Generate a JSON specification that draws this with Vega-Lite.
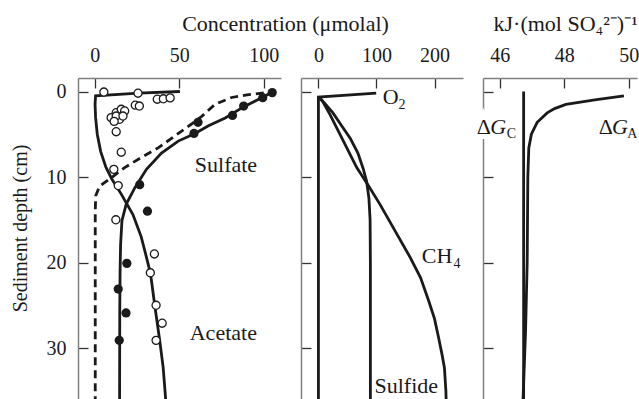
{
  "$schema": "https://vega.github.io/schema/vega-lite/v6.json",
  "padding": {"left": 10, "top": 12, "right": 0, "bottom": 0},
  "autosize": {"type": "pad"},
  "bounds": "flush",
  "spacing": 20,
  "config": {
    "font": "Liberation Serif",
    "view": {"stroke": null},
    "axis": {
      "grid": false,
      "domainColor": "#808080",
      "domainWidth": 1.5,
      "tickColor": "#333333",
      "tickWidth": 1.3,
      "tickSize": -10,
      "labelFont": "Liberation Serif",
      "labelFontSize": 20,
      "labelColor": "#1a1a1a",
      "labelOverlap": false,
      "labelFlush": false,
      "titleFont": "Liberation Serif",
      "titleFontWeight": "normal",
      "titleFontSize": 22,
      "titleColor": "#1a1a1a"
    }
  },
  "datasets": {
    "p1_lines": [
      {"series": "sulfate_fit", "x": 105, "d": 0.1},
      {"series": "sulfate_fit", "x": 97, "d": 0.9},
      {"series": "sulfate_fit", "x": 88, "d": 1.8},
      {"series": "sulfate_fit", "x": 77.2, "d": 3.1},
      {"series": "sulfate_fit", "x": 67.3, "d": 4.0},
      {"series": "sulfate_fit", "x": 59.3, "d": 4.9},
      {"series": "sulfate_fit", "x": 49.4, "d": 5.8},
      {"series": "sulfate_fit", "x": 39.5, "d": 7.2},
      {"series": "sulfate_fit", "x": 30.6, "d": 9.1},
      {"series": "sulfate_fit", "x": 23.6, "d": 11.3},
      {"series": "sulfate_fit", "x": 18.6, "d": 13.2},
      {"series": "sulfate_fit", "x": 16.1, "d": 15.1},
      {"series": "sulfate_fit", "x": 15.3, "d": 17.9},
      {"series": "sulfate_fit", "x": 15.0, "d": 21},
      {"series": "sulfate_fit", "x": 14.8, "d": 26},
      {"series": "sulfate_fit", "x": 14.7, "d": 36.1},
      {"series": "acetate_fit", "x": 50.4, "d": 0},
      {"series": "acetate_fit", "x": 26, "d": 0.2},
      {"series": "acetate_fit", "x": 0.5, "d": 0.5},
      {"series": "acetate_fit", "x": 0.2, "d": 1.5},
      {"series": "acetate_fit", "x": 0.5, "d": 3},
      {"series": "acetate_fit", "x": 1.5, "d": 5},
      {"series": "acetate_fit", "x": 3.5, "d": 7},
      {"series": "acetate_fit", "x": 6.5, "d": 8.8},
      {"series": "acetate_fit", "x": 10, "d": 10.2},
      {"series": "acetate_fit", "x": 15.7, "d": 12},
      {"series": "acetate_fit", "x": 22.6, "d": 14.4},
      {"series": "acetate_fit", "x": 27.5, "d": 17},
      {"series": "acetate_fit", "x": 30.5, "d": 19.3},
      {"series": "acetate_fit", "x": 33, "d": 21.3},
      {"series": "acetate_fit", "x": 35.5, "d": 25},
      {"series": "acetate_fit", "x": 38.5, "d": 29.2},
      {"series": "acetate_fit", "x": 40.5, "d": 32.3},
      {"series": "acetate_fit", "x": 42, "d": 36.1},
      {"series": "sulfate_alt", "x": 100, "d": 0.15},
      {"series": "sulfate_alt", "x": 90, "d": 0.4},
      {"series": "sulfate_alt", "x": 81, "d": 0.7},
      {"series": "sulfate_alt", "x": 71.2, "d": 1.5},
      {"series": "sulfate_alt", "x": 63.3, "d": 2.9},
      {"series": "sulfate_alt", "x": 57.3, "d": 3.8},
      {"series": "sulfate_alt", "x": 47.4, "d": 5.2},
      {"series": "sulfate_alt", "x": 37.5, "d": 6.6},
      {"series": "sulfate_alt", "x": 27.6, "d": 7.7},
      {"series": "sulfate_alt", "x": 17.7, "d": 8.9},
      {"series": "sulfate_alt", "x": 9.7, "d": 10.1},
      {"series": "sulfate_alt", "x": 2.8, "d": 11.1},
      {"series": "sulfate_alt", "x": 0.6, "d": 12.2},
      {"series": "sulfate_alt", "x": 0.3, "d": 14},
      {"series": "sulfate_alt", "x": 0.3, "d": 36.1}
    ],
    "p1_points": [
      {"series": "acetate_obs", "x": 5.4, "d": 0.06},
      {"series": "acetate_obs", "x": 25.6, "d": 0.2},
      {"series": "acetate_obs", "x": 37, "d": 0.9},
      {"series": "acetate_obs", "x": 40.6, "d": 0.85},
      {"series": "acetate_obs", "x": 44.6, "d": 0.75},
      {"series": "acetate_obs", "x": 24, "d": 1.6},
      {"series": "acetate_obs", "x": 26.4, "d": 1.7},
      {"series": "acetate_obs", "x": 9.7, "d": 3.06},
      {"series": "acetate_obs", "x": 12.7, "d": 2.48},
      {"series": "acetate_obs", "x": 15.7, "d": 2.08},
      {"series": "acetate_obs", "x": 17.7, "d": 2.28},
      {"series": "acetate_obs", "x": 14.7, "d": 3.25},
      {"series": "acetate_obs", "x": 12.7, "d": 2.87},
      {"series": "acetate_obs", "x": 16.7, "d": 2.87},
      {"series": "acetate_obs", "x": 11.5, "d": 3.5},
      {"series": "acetate_obs", "x": 12.7, "d": 4.7},
      {"series": "acetate_obs", "x": 15.7, "d": 7.1},
      {"series": "acetate_obs", "x": 11.3, "d": 9.1},
      {"series": "acetate_obs", "x": 13.9, "d": 11.0},
      {"series": "acetate_obs", "x": 12.5, "d": 15.0},
      {"series": "acetate_obs", "x": 35.3, "d": 19.0},
      {"series": "acetate_obs", "x": 32.9, "d": 21.2},
      {"series": "acetate_obs", "x": 36.3, "d": 25.0},
      {"series": "acetate_obs", "x": 39.9, "d": 27.1},
      {"series": "acetate_obs", "x": 36.3, "d": 29.1},
      {"series": "sulfate_obs", "x": 105, "d": 0.13},
      {"series": "sulfate_obs", "x": 99.4, "d": 0.72},
      {"series": "sulfate_obs", "x": 88.1, "d": 1.7},
      {"series": "sulfate_obs", "x": 81.5, "d": 2.8},
      {"series": "sulfate_obs", "x": 61.1, "d": 3.6},
      {"series": "sulfate_obs", "x": 58.7, "d": 4.9},
      {"series": "sulfate_obs", "x": 26.6, "d": 10.9},
      {"series": "sulfate_obs", "x": 31.2, "d": 14.0},
      {"series": "sulfate_obs", "x": 19, "d": 20.1},
      {"series": "sulfate_obs", "x": 13.9, "d": 23.1},
      {"series": "sulfate_obs", "x": 18.5, "d": 25.9},
      {"series": "sulfate_obs", "x": 14.5, "d": 29.1}
    ],
    "p1_labels": [
      {"text": "Sulfate", "x": 59.2, "d": 9.4},
      {"text": "Acetate", "x": 56.2, "d": 29.1}
    ],
    "p2_lines": [
      {"series": "O2", "x": 99.5, "d": 0.2},
      {"series": "O2", "x": 0, "d": 0.65},
      {"series": "O2", "x": 0, "d": 36.1},
      {"series": "Sulfide", "x": 0, "d": 0.7},
      {"series": "Sulfide", "x": 10, "d": 1.3},
      {"series": "Sulfide", "x": 25, "d": 2.5},
      {"series": "Sulfide", "x": 40, "d": 4},
      {"series": "Sulfide", "x": 55, "d": 5.5},
      {"series": "Sulfide", "x": 68, "d": 7.2},
      {"series": "Sulfide", "x": 77, "d": 9},
      {"series": "Sulfide", "x": 83, "d": 10.5},
      {"series": "Sulfide", "x": 87, "d": 12.5},
      {"series": "Sulfide", "x": 89, "d": 15},
      {"series": "Sulfide", "x": 89.5, "d": 20},
      {"series": "Sulfide", "x": 89.5, "d": 36.1},
      {"series": "CH4", "x": 0, "d": 0.7},
      {"series": "CH4", "x": 6, "d": 1.0},
      {"series": "CH4", "x": 20, "d": 2.7},
      {"series": "CH4", "x": 40, "d": 5.4},
      {"series": "CH4", "x": 66, "d": 8.9},
      {"series": "CH4", "x": 86, "d": 11},
      {"series": "CH4", "x": 106, "d": 13.2},
      {"series": "CH4", "x": 132, "d": 16.3},
      {"series": "CH4", "x": 158, "d": 19.4},
      {"series": "CH4", "x": 176, "d": 21.8},
      {"series": "CH4", "x": 190, "d": 24.5},
      {"series": "CH4", "x": 200, "d": 26.6},
      {"series": "CH4", "x": 207, "d": 28.8},
      {"series": "CH4", "x": 213, "d": 30.8},
      {"series": "CH4", "x": 217, "d": 32.3},
      {"series": "CH4", "x": 219.5, "d": 35},
      {"series": "CH4", "x": 220, "d": 36.1}
    ],
    "p2_labels": [
      {"part": "main", "text": "O", "x": 110.9, "d": 1.46},
      {"part": "sub", "text": "2", "x": 137.9, "d": 2.1},
      {"part": "main", "text": "CH", "x": 178.1, "d": 20.0},
      {"part": "sub", "text": "4", "x": 232.8, "d": 20.6},
      {"part": "main", "text": "Sulfide", "x": 96.6, "d": 35.3}
    ],
    "p3_lines": [
      {"series": "dGC", "x": 46.74, "d": 0},
      {"series": "dGC", "x": 46.74, "d": 36.1},
      {"series": "dGA", "x": 49.85, "d": 0.5},
      {"series": "dGA", "x": 49.0, "d": 0.95},
      {"series": "dGA", "x": 48.05, "d": 1.5},
      {"series": "dGA", "x": 47.7, "d": 2.0},
      {"series": "dGA", "x": 47.47, "d": 2.5},
      {"series": "dGA", "x": 47.16, "d": 3.6},
      {"series": "dGA", "x": 46.98, "d": 5},
      {"series": "dGA", "x": 46.9, "d": 6.6},
      {"series": "dGA", "x": 46.87, "d": 10},
      {"series": "dGA", "x": 46.85, "d": 20},
      {"series": "dGA", "x": 46.8, "d": 28},
      {"series": "dGA", "x": 46.72, "d": 36.1}
    ],
    "p3_labels": [
      {"label": "C", "part": "delta", "text": "Δ", "x": 45.287, "d": 4.97},
      {"label": "C", "part": "G", "text": "G", "x": 45.705, "d": 4.97},
      {"label": "C", "part": "sub", "text": "C", "x": 46.217, "d": 5.45},
      {"label": "A", "part": "delta", "text": "Δ", "x": 49.07, "d": 4.97},
      {"label": "A", "part": "G", "text": "G", "x": 49.48, "d": 4.97},
      {"label": "A", "part": "sub", "text": "A", "x": 49.95, "d": 5.45}
    ]
  },
  "hconcat": [
    {
      "width": 203,
      "height": 322,
      "encoding": {
        "x": {"field": "x", "type": "quantitative",
          "scale": {"domain": [-9.9, 110.2], "nice": false, "zero": false},
          "axis": {"orient": "top", "values": [0, 50, 100], "labelPadding": 23,
            "title": "Concentration (μmolal)", "titleX": 207, "titleY": -48,
            "titleAlign": "center", "titleBaseline": "alphabetic"}},
        "y": {"field": "d", "type": "quantitative",
          "scale": {"domain": [-1.58, 36.08], "nice": false, "zero": false, "reverse": true},
          "axis": {"values": [0, 10, 20, 30], "labelPadding": 22,
            "title": "Sediment depth (cm)", "titleFontSize": 20,
            "titleX": -58, "titleY": 150, "titleAngle": 270,
            "titleAlign": "center", "titleBaseline": "middle"}}
      },
      "layer": [
        {
          "data": {"name": "p1_lines"},
          "transform": [{"filter": "datum.series !== 'sulfate_alt'"}],
          "mark": {"type": "line", "color": "#1a1a1a", "strokeWidth": 2.8},
          "encoding": {"detail": {"field": "series"}, "order": {"value": null}}
        },
        {
          "data": {"name": "p1_lines"},
          "transform": [{"filter": "datum.series === 'sulfate_alt'"}],
          "mark": {"type": "line", "color": "#1a1a1a", "strokeWidth": 2.8, "strokeDash": [8, 5]},
          "encoding": {"order": {"value": null}}
        },
        {
          "data": {"name": "p1_points"},
          "transform": [{"filter": "datum.series === 'acetate_obs'"}],
          "mark": {"type": "point", "shape": "circle", "filled": true, "fill": "white",
            "stroke": "#1a1a1a", "strokeWidth": 1.3, "size": 65, "opacity": 1}
        },
        {
          "data": {"name": "p1_points"},
          "transform": [{"filter": "datum.series === 'sulfate_obs'"}],
          "mark": {"type": "circle", "color": "#1a1a1a", "size": 85, "opacity": 1}
        },
        {
          "data": {"name": "p1_labels"},
          "mark": {"type": "text", "font": "Liberation Serif", "fontSize": 22, "align": "left",
            "baseline": "alphabetic", "color": "#1a1a1a"},
          "encoding": {"text": {"field": "text"}}
        },
        {
          "data": {"values": [{}]},
          "mark": {"type": "rule", "color": "#808080", "strokeWidth": 1.5},
          "encoding": {"x": {"datum": 110.2}, "y": {"datum": -1.58}, "y2": {"datum": 36.08}}
        }
      ]
    },
    {
      "width": 162,
      "height": 322,
      "encoding": {
        "x": {"field": "x", "type": "quantitative",
          "scale": {"domain": [-30, 249], "nice": false, "zero": false},
          "axis": {"orient": "top", "values": [0, 100, 200], "labelPadding": 23, "title": null}},
        "y": {"field": "d", "type": "quantitative",
          "scale": {"domain": [-1.58, 36.08], "nice": false, "zero": false, "reverse": true},
          "axis": {"values": [0, 10, 20, 30], "labels": false, "title": null}}
      },
      "layer": [
        {
          "data": {"name": "p2_lines"},
          "mark": {"type": "line", "color": "#1a1a1a", "strokeWidth": 2.8},
          "encoding": {"detail": {"field": "series"}, "order": {"value": null}}
        },
        {
          "data": {"name": "p2_labels"},
          "transform": [{"filter": "datum.part === 'main'"}],
          "mark": {"type": "text", "font": "Liberation Serif", "fontSize": 22, "align": "left",
            "baseline": "alphabetic", "color": "#1a1a1a"},
          "encoding": {"text": {"field": "text"}}
        },
        {
          "data": {"name": "p2_labels"},
          "transform": [{"filter": "datum.part === 'sub'"}],
          "mark": {"type": "text", "font": "Liberation Serif", "fontSize": 14, "align": "left",
            "baseline": "alphabetic", "color": "#1a1a1a"},
          "encoding": {"text": {"field": "text"}}
        },
        {
          "data": {"values": [{}]},
          "mark": {"type": "rule", "color": "#808080", "strokeWidth": 1.5},
          "encoding": {"x": {"datum": 249}, "y": {"datum": -1.58}, "y2": {"datum": 36.08}}
        }
      ]
    },
    {
      "width": 154,
      "height": 322,
      "encoding": {
        "x": {"field": "x", "type": "quantitative",
          "scale": {"domain": [45.48, 50.255], "nice": false, "zero": false},
          "axis": {"orient": "top", "values": [46, 48, 50], "labelPadding": 23,
            "title": "kJ·(mol SO₄²⁻)⁻¹", "titleX": 10, "titleY": -48,
            "titleAlign": "left", "titleBaseline": "alphabetic"}},
        "y": {"field": "d", "type": "quantitative",
          "scale": {"domain": [-1.58, 36.08], "nice": false, "zero": false, "reverse": true},
          "axis": {"values": [0, 10, 20, 30], "labels": false, "title": null}}
      },
      "layer": [
        {
          "data": {"name": "p3_labels"},
          "transform": [{"filter": "datum.label === 'C' && datum.part !== 'sub'"}],
          "mark": {"type": "text", "font": "Liberation Serif", "fontSize": 22, "align": "left",
            "baseline": "alphabetic", "color": "white", "stroke": "white", "strokeWidth": 10},
          "encoding": {"text": {"field": "text"}}
        },
        {
          "data": {"name": "p3_lines"},
          "mark": {"type": "line", "color": "#1a1a1a", "strokeWidth": 2.8},
          "encoding": {"detail": {"field": "series"}, "order": {"value": null}}
        },
        {
          "data": {"name": "p3_labels"},
          "transform": [{"filter": "datum.label === 'C' && datum.part === 'delta'"}],
          "mark": {"type": "text", "font": "Liberation Serif", "fontSize": 22, "align": "left",
            "baseline": "alphabetic", "color": "#1a1a1a"},
          "encoding": {"text": {"field": "text"}}
        },
        {
          "data": {"name": "p3_labels"},
          "transform": [{"filter": "datum.label === 'C' && datum.part === 'G'"}],
          "mark": {"type": "text", "font": "Liberation Serif", "fontSize": 22, "fontStyle": "italic",
            "align": "left", "baseline": "alphabetic", "color": "#1a1a1a"},
          "encoding": {"text": {"field": "text"}}
        },
        {
          "data": {"name": "p3_labels"},
          "transform": [{"filter": "datum.label === 'C' && datum.part === 'sub'"}],
          "mark": {"type": "text", "font": "Liberation Serif", "fontSize": 14, "align": "left",
            "baseline": "alphabetic", "color": "#1a1a1a"},
          "encoding": {"text": {"field": "text"}}
        },
        {
          "data": {"name": "p3_labels"},
          "transform": [{"filter": "datum.label === 'A' && datum.part === 'delta'"}],
          "mark": {"type": "text", "font": "Liberation Serif", "fontSize": 22, "align": "left",
            "baseline": "alphabetic", "color": "#1a1a1a", "clip": true},
          "encoding": {"text": {"field": "text"}}
        },
        {
          "data": {"name": "p3_labels"},
          "transform": [{"filter": "datum.label === 'A' && datum.part === 'G'"}],
          "mark": {"type": "text", "font": "Liberation Serif", "fontSize": 22, "fontStyle": "italic",
            "align": "left", "baseline": "alphabetic", "color": "#1a1a1a", "clip": true},
          "encoding": {"text": {"field": "text"}}
        },
        {
          "data": {"name": "p3_labels"},
          "transform": [{"filter": "datum.label === 'A' && datum.part === 'sub'"}],
          "mark": {"type": "text", "font": "Liberation Serif", "fontSize": 14, "align": "left",
            "baseline": "alphabetic", "color": "#1a1a1a", "clip": true},
          "encoding": {"text": {"field": "text"}}
        }
      ]
    }
  ]
}
